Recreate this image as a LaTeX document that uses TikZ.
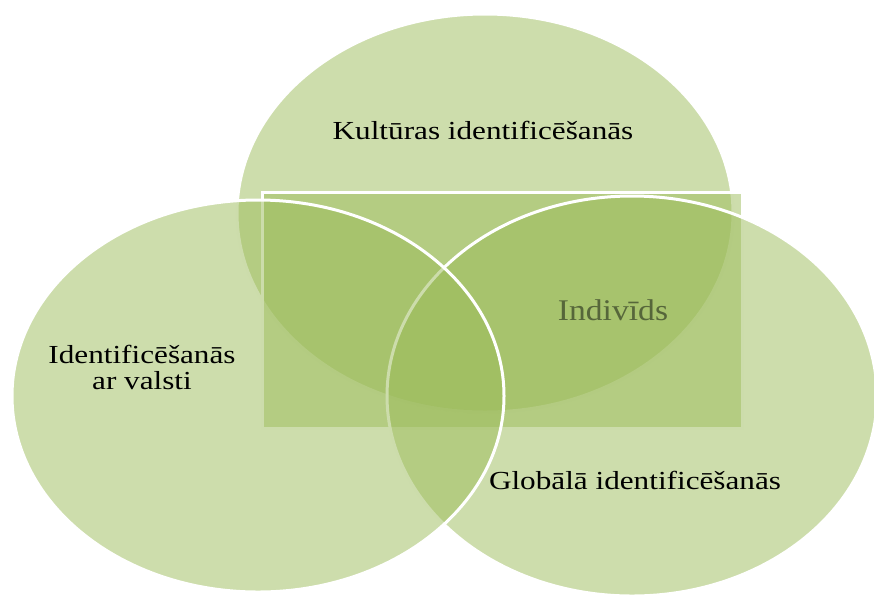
\documentclass[tikz,border=0pt]{standalone}
\usepackage{fontspec}
\setmainfont{Liberation Serif}
\newfontfamily\lblfont[FakeStretch=1.2]{Liberation Serif}
\newfontfamily\corefont[FakeStretch=1.12]{Liberation Serif}
\definecolor{olive}{HTML}{9BBB59}
\definecolor{coretext}{HTML}{56663A}
\tikzset{
  region/.style={fill=olive, fill opacity=0.5, draw=white, line width=3pt},
  lbl/.style={font=\lblfont\fontsize{26}{26}\selectfont, text=black, align=center, inner sep=0pt},
  corelbl/.style={font=\corefont\fontsize{30}{34}\selectfont, text=coretext, inner sep=0pt}
}
\begin{document}
\begin{tikzpicture}[x=1pt, y=-1pt]
  \useasboundingbox (0,0) rectangle (874,595);
  % cultural identity (top)
  \filldraw[region] (485,213) ellipse [x radius=248pt, y radius=199pt];
  % the individual
  \filldraw[region] (262,192) rectangle (742,428);
  % global identity (right)
  \filldraw[region] (632,396) ellipse [x radius=245pt, y radius=200pt];
  % national identity (left)
  \filldraw[region] (258,396) ellipse [x radius=246pt, y radius=196pt];

  \node[lbl, anchor=base] (kult) at (483,139) {Kultūras identificēšanās};
  \node[lbl, anchor=base] (valsts) at (142,389) {Identificēšanās\\ar valsti};
  \node[lbl, anchor=base] (glob) at (635,489) {Globālā identificēšanās};
  \node[corelbl, anchor=base] (indiv) at (613,320) {Indivīds};
\end{tikzpicture}
\end{document}
